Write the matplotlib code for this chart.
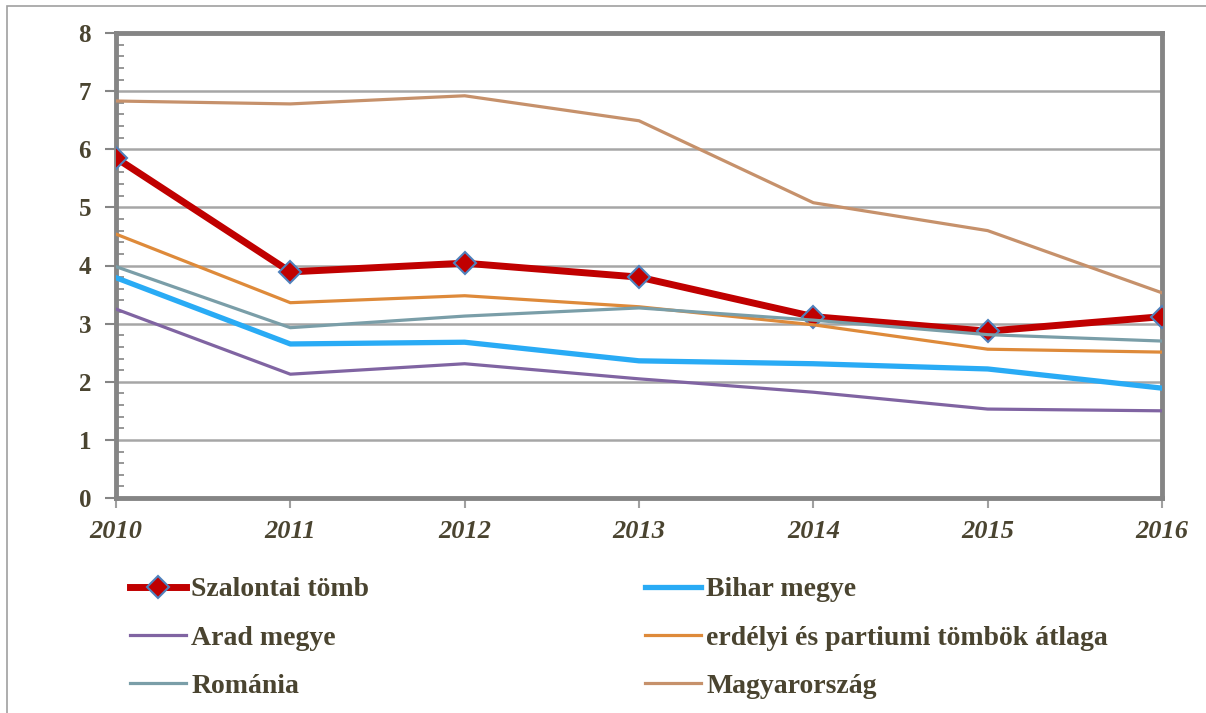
import matplotlib
matplotlib.use("Agg")
import matplotlib.pyplot as plt
from matplotlib.patches import Rectangle
from matplotlib.ticker import MultipleLocator

years = [2010, 2011, 2012, 2013, 2014, 2015, 2016]
szalontai = [5.85, 3.89, 4.04, 3.80, 3.12, 2.87, 3.12]
bihar = [3.79, 2.65, 2.68, 2.36, 2.31, 2.22, 1.89]
arad = [3.25, 2.13, 2.31, 2.05, 1.82, 1.53, 1.50]
erdelyi = [4.54, 3.36, 3.48, 3.29, 2.98, 2.56, 2.51]
romania = [3.98, 2.93, 3.13, 3.27, 3.06, 2.81, 2.70]
magyar = [6.83, 6.78, 6.92, 6.49, 5.08, 4.60, 3.53]

TXT = "#4a4430"
plt.rcParams["font.family"] = ["Liberation Serif", "DejaVu Serif"]
plt.rcParams["font.weight"] = "bold"

fig = plt.figure(figsize=(12.06, 7.13), dpi=100)
# outer frame (only top and left edges visible in the picture)
fig.patches.append(Rectangle((7 / 1206, -0.05), 1.1, 1.05 - 5.5 / 713, transform=fig.transFigure,
                             fill=False, edgecolor="#a0a0a0", linewidth=1.2))
ax = fig.add_axes([116 / 1206, 1 - 498 / 713, 1046 / 1206, 465 / 713])

h_sz, = ax.plot(years, szalontai, color="#c00000", lw=5, marker="D", ms=11,
                mfc="#c00000", mec="#4f81bd", mew=1.5, zorder=3, label="Szalontai tömb")
h_bi, = ax.plot(years, bihar, color="#29abf5", lw=3.8, zorder=4, label="Bihar megye")
h_ar, = ax.plot(years, arad, color="#8064a2", lw=2.3, zorder=5, label="Arad megye")
h_er, = ax.plot(years, erdelyi, color="#de8a3a", lw=2.3, zorder=6,
                label="erdélyi és partiumi tömbök átlaga")
h_ro, = ax.plot(years, romania, color="#7a9ea8", lw=2.3, zorder=7, label="Románia")
h_ma, = ax.plot(years, magyar, color="#c6916b", lw=2.3, zorder=8, label="Magyarország")

ax.set_xlim(2010, 2016)
ax.set_ylim(0, 8)
ax.yaxis.set_major_locator(MultipleLocator(1))
ax.yaxis.set_minor_locator(MultipleLocator(0.2))
ax.set_xticks(years)
ax.grid(axis="y", which="major", color="#a6a6a6", lw=1.8, zorder=1)
for s in ax.spines.values():
    s.set_color("#858585")
    s.set_linewidth(3.5)
ax.tick_params(axis="y", which="major", direction="out", length=8, width=1.5,
               color="#858585", labelsize=18, labelcolor=TXT, pad=10)
ax.tick_params(axis="y", which="minor", direction="in", length=6, width=1.2, color="#858585")
ax.tick_params(axis="x", which="major", direction="out", length=7, width=1.5,
               color="#a0a0a0", labelsize=19, labelcolor=TXT, pad=9)
for lbl in ax.get_xticklabels():
    lbl.set_style("italic")
    lbl.set_fontweight("bold")

leg_kw = dict(frameon=False, handlelength=2.0, handletextpad=0.2,
              labelspacing=0.82, borderpad=0, borderaxespad=0, labelcolor=TXT,
              prop={"weight": "bold", "size": 20})
fig.legend(handles=[h_sz, h_ar, h_ro], loc="upper left",
           bbox_to_anchor=(130 / 1206, 1 - 577 / 713), **leg_kw)
fig.legend(handles=[h_bi, h_er, h_ma], loc="upper left",
           bbox_to_anchor=(645 / 1206, 1 - 577 / 713), **leg_kw)

fig.savefig("out.png", dpi=100)
